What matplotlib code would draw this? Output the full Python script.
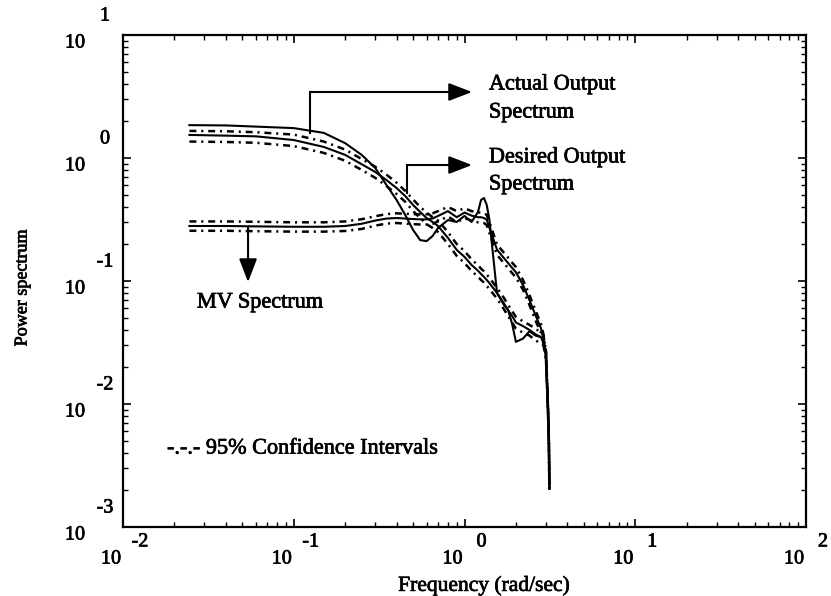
import matplotlib
matplotlib.use('Agg')
import matplotlib.pyplot as plt
import matplotlib.patheffects as pe
from matplotlib.ticker import LogLocator, NullFormatter

plt.rcParams['font.family'] = ['Liberation Serif', 'DejaVu Serif']
plt.rcParams['lines.scale_dashes'] = False

# ---------------- data ----------------
freq = [0.0245, 0.04, 0.06, 0.1, 0.15, 0.2, 0.25, 0.3, 0.35, 0.4,
        0.45, 0.5, 0.55, 0.6, 0.65, 0.7, 0.8, 0.9, 1.0, 1.1,
        1.2, 1.25, 1.3, 1.35, 1.4, 1.55, 1.7, 1.8, 1.9, 2.0,
        2.2, 2.4, 2.6, 2.8, 2.9, 3.0, 3.07, 3.12, 3.14]

actual_out = [1.85, 1.84, 1.80, 1.75, 1.60, 1.32, 1.06, 0.83, 0.60, 0.456,
              0.344, 0.26, 0.215, 0.211, 0.232, 0.27, 0.313, 0.302, 0.338, 0.302,
              0.364, 0.456, 0.473, 0.415, 0.313, 0.080, 0.064, 0.058, 0.045, 0.032,
              0.034, 0.039, 0.036, 0.035, 0.032, 0.025, 0.0108, 0.0051, 0.00207]

desired_out = [1.54, 1.52, 1.50, 1.40, 1.23, 1.06, 0.89, 0.77, 0.66, 0.57,
               0.49, 0.415, 0.364, 0.325, 0.302, 0.280, 0.224, 0.179, 0.157, 0.135,
               0.121, 0.114, 0.108, 0.102, 0.096, 0.080, 0.066, 0.058, 0.052, 0.046,
               0.043, 0.040, 0.037, 0.035, 0.033, 0.025, 0.0108, 0.0051, 0.00207]

desired_hi = [1.66, 1.65, 1.62, 1.55, 1.36, 1.17, 0.98, 0.85, 0.73, 0.63,
              0.54, 0.46, 0.40, 0.36, 0.33, 0.31, 0.25, 0.20, 0.175, 0.15,
              0.134, 0.126, 0.12, 0.113, 0.106, 0.088, 0.073, 0.064, 0.057, 0.051,
              0.047, 0.044, 0.041, 0.038, 0.036, 0.027, 0.0115, 0.0054, 0.0022]

desired_lo = [1.36, 1.35, 1.33, 1.25, 1.10, 0.95, 0.80, 0.69, 0.59, 0.51,
              0.44, 0.37, 0.325, 0.29, 0.27, 0.25, 0.20, 0.16, 0.14, 0.121,
              0.108, 0.102, 0.097, 0.091, 0.086, 0.072, 0.059, 0.052, 0.046, 0.041,
              0.038, 0.036, 0.033, 0.031, 0.030, 0.023, 0.0102, 0.0048, 0.0020]

mv = [0.280, 0.280, 0.278, 0.276, 0.276, 0.280, 0.292, 0.310, 0.322, 0.325,
      0.322, 0.319, 0.317, 0.317, 0.322, 0.338, 0.370, 0.330, 0.360, 0.340,
      0.330, 0.330, 0.325, 0.315, 0.270, 0.180, 0.154, 0.140, 0.128, 0.118,
      0.093, 0.070, 0.053, 0.0415, 0.0344, 0.025, 0.0108, 0.0051, 0.00207]

mv_hi = [0.305, 0.305, 0.303, 0.300, 0.300, 0.305, 0.318, 0.336, 0.350, 0.355,
         0.352, 0.350, 0.348, 0.348, 0.355, 0.37, 0.40, 0.37, 0.39, 0.37,
         0.36, 0.36, 0.355, 0.345, 0.30, 0.198, 0.17, 0.155, 0.141, 0.130,
         0.102, 0.077, 0.058, 0.045, 0.037, 0.027, 0.0115, 0.0054, 0.0022]

mv_lo = [0.256, 0.256, 0.254, 0.252, 0.252, 0.255, 0.265, 0.282, 0.293, 0.296,
         0.293, 0.290, 0.288, 0.288, 0.292, 0.305, 0.335, 0.30, 0.325, 0.31,
         0.30, 0.30, 0.296, 0.285, 0.245, 0.163, 0.14, 0.127, 0.116, 0.107,
         0.085, 0.064, 0.048, 0.038, 0.031, 0.023, 0.0102, 0.0048, 0.0020]

x_decades = [1e-2, 1e-1, 1e0, 1e1, 1e2]
x_exps = ['-2', '-1', '0', '1', '2']
y_decades = [1e-3, 1e-2, 1e-1, 1e0, 1e1]
y_exps = ['-3', '-2', '-1', '0', '1']

# ---------------- figure ----------------
fig = plt.figure(figsize=(8.31, 5.96), dpi=100)
ax = fig.add_axes([123 / 831, 69 / 596, 683 / 831, 492 / 596])
ax.set_xscale('log')
ax.set_yscale('log')
ax.set_xlim(1e-2, 1e2)
ax.set_ylim(1e-3, 1e1)

dashdot = (0, (5, 3.5, 1.5, 3.5))
ax.plot(freq, actual_out, color='black', lw=1.5)
ax.plot(freq, desired_out, color='black', lw=1.5)
ax.plot(freq, mv, color='black', lw=1.5)
for arr in (desired_hi, desired_lo, mv_hi, mv_lo):
    ax.plot(freq, arr, color='black', lw=1.8, linestyle=dashdot)

# ticks
for axis in (ax.xaxis, ax.yaxis):
    axis.set_major_locator(LogLocator(base=10, numticks=10))
    axis.set_minor_locator(LogLocator(base=10, subs=range(2, 10), numticks=40))
    axis.set_minor_formatter(NullFormatter())
ax.tick_params(which='both', direction='in', top=True, right=True,
               labelbottom=False, labelleft=False)
ax.tick_params(which='major', length=6, width=1.2)
ax.tick_params(which='minor', length=3.5, width=1.0)
for sp in ax.spines.values():
    sp.set_linewidth(1.6)

heavy = [pe.withStroke(linewidth=0.5, foreground='black')]

tfs = 14.5
for v, e in zip(x_decades, x_exps):
    ax.annotate('10', xy=(v, 0), xycoords=('data', 'axes fraction'),
                xytext=(-12, -32), textcoords='offset pixels',
                ha='center', va='center', fontsize=tfs, annotation_clip=False,
                path_effects=heavy)
    ax.annotate(e, xy=(v, 0), xycoords=('data', 'axes fraction'),
                xytext=(17, -15), textcoords='offset pixels',
                ha='center', va='center', fontsize=tfs, annotation_clip=False,
                path_effects=heavy)
for v, e in zip(y_decades, y_exps):
    ax.annotate('10', xy=(0, v), xycoords=('axes fraction', 'data'),
                xytext=(-48, -8), textcoords='offset pixels',
                ha='center', va='center', fontsize=tfs, annotation_clip=False,
                path_effects=heavy)
    ax.annotate(e, xy=(0, v), xycoords=('axes fraction', 'data'),
                xytext=(-18, 19), textcoords='offset pixels',
                ha='center', va='center', fontsize=tfs, annotation_clip=False,
                path_effects=heavy)

fig.text(484 / 831, 1 - 586 / 596, 'Frequency (rad/sec)', ha='center',
         va='center', fontsize=15.5, path_effects=heavy)
fig.text(22 / 831, 1 - 288 / 596, 'Power spectrum', rotation=90,
         ha='center', va='center', fontsize=13, path_effects=heavy)

# annotations
arrow = dict(arrowstyle='-|>,head_length=1.3,head_width=0.5', color='black',
             lw=1.5, mutation_scale=11, shrinkA=0, shrinkB=0)
ax.plot([0.1245, 0.1245], [1.6, 3.44], color='black', lw=1.5)
ax.annotate('', xy=(1.107, 3.44), xytext=(0.1245, 3.44), arrowprops=arrow)
ax.plot([0.46, 0.46], [0.519, 0.877], color='black', lw=1.5)
ax.annotate('', xy=(1.107, 0.877), xytext=(0.46, 0.877), arrowprops=arrow)
ax.annotate('', xy=(0.054, 0.098), xytext=(0.054, 0.275), arrowprops=arrow)

afs = 16
ax.text(1.39, 3.92, 'Actual Output', ha='left', va='center', fontsize=afs,
        path_effects=heavy)
ax.text(1.39, 2.32, 'Spectrum', ha='left', va='center', fontsize=afs,
        path_effects=heavy)
ax.text(1.39, 1.0, 'Desired Output', ha='left', va='center', fontsize=afs,
        path_effects=heavy)
ax.text(1.39, 0.603, 'Spectrum', ha='left', va='center', fontsize=afs,
        path_effects=heavy)
ax.text(0.0271, 0.0662, 'MV Spectrum', ha='left', va='center', fontsize=afs,
        path_effects=heavy)
ax.text(0.0181, 0.0043, '-.-.- 95% Confidence Intervals', ha='left',
        va='center', fontsize=afs, path_effects=heavy)

fig.savefig('out.png', dpi=100, facecolor='white')
